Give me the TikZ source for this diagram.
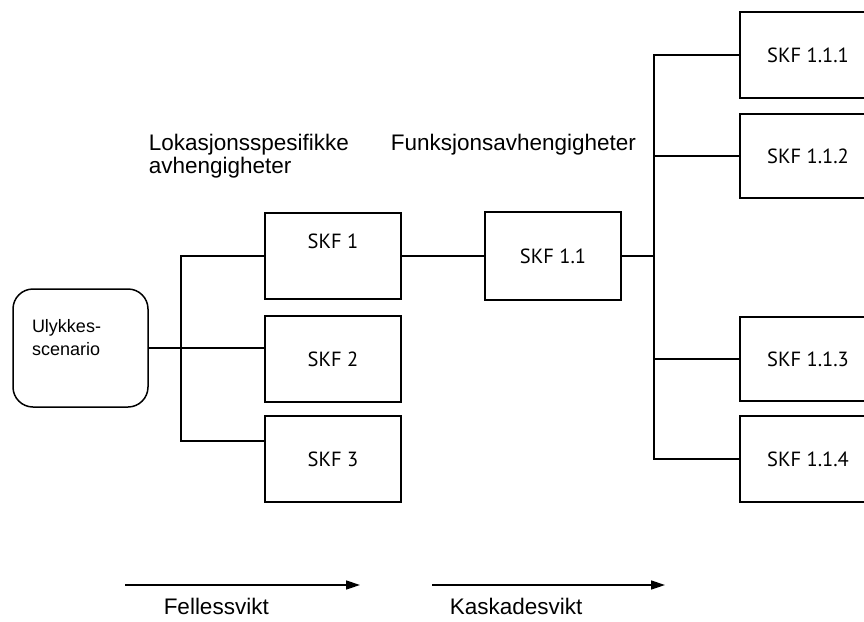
\documentclass[tikz,border=0pt]{standalone}
\usepackage{fontspec}
\setmainfont{Liberation Sans}
\newfontfamily\boxfont{PT Sans}
\usetikzlibrary{arrows.meta,calc}

\begin{document}
\begin{tikzpicture}[x=1pt, y=-1pt, line width=1.5pt,
  skfbox/.style={draw, minimum width=136pt, minimum height=86pt, inner sep=0pt,
    font=\boxfont\fontsize{20.5}{24}\selectfont},
  headtext/.style={anchor=north west, inner sep=0pt, align=left,
    font=\fontsize{22.5}{23}\selectfont},
  flow/.style={-{Triangle[length=14pt,width=9pt]}}]
\clip (0,0) rectangle (864,621);

% left part
\node[draw, rounded corners=20pt, minimum width=135pt, minimum height=118pt] (ulyk) at (80.5,348) {};
\node[anchor=north west, inner sep=0pt, align=left, font=\fontsize{18}{23}\selectfont]
  (ulyktext) at ([xshift=19pt,yshift=-30pt]ulyk.north west) {Ulykkes-\\scenario};

\node[skfbox, text height=14pt, text depth=30pt] (skf1) at (333,256) {SKF 1};
\node[skfbox] (skf2) at (333,359) {SKF 2};
\node[skfbox] (skf3) at (333,459) {SKF 3};
\node[skfbox, minimum height=88pt] (skf11) at (553,256) {SKF 1.1};

% right column
\node[skfbox] (skf111) at (808,55) {SKF 1.1.1};
\node[skfbox, minimum height=84pt] (skf112) at (808,156) {SKF 1.1.2};
\node[skfbox, minimum height=84pt] (skf113) at (808,359) {SKF 1.1.3};
\node[skfbox] (skf114) at (808,459) {SKF 1.1.4};

% connectors
\coordinate (lbus) at (181,348);
\coordinate (s3in) at ([yshift=18pt]skf3.west);
\draw (ulyk.east) -- (skf2.west |- ulyk.east);
\draw (skf1.west) -| (lbus |- s3in) -- (s3in);
\draw (skf1.east) -- (skf11.west);

\coordinate (rbus) at (654,256);
\draw (skf11.east) -- (rbus);
\draw (skf111.west) -| (rbus |- skf114) -- (skf114.west);
\draw (rbus |- skf112) -- (skf112.west);
\draw (rbus |- skf113) -- (skf113.west);

% headings
\node[headtext] (lokhead) at (148,133) {Lokasjonsspesifikke\\avhengigheter};
\node[headtext] (funkhead) at (390,133) {Funksjonsavhengigheter};

% arrows
\coordinate (fstart) at (125,585);
\coordinate (fend) at (360,585);
\coordinate (kstart) at (432,585);
\coordinate (kend) at (665,585);
\draw[flow] (fstart) -- (fend);
\draw[flow] (kstart) -- (kend);
\node[headtext] (felles) at (163,597) {Fellessvikt};
\node[headtext] (kaskade) at (449,597) {Kaskadesvikt};

\end{tikzpicture}
\end{document}
